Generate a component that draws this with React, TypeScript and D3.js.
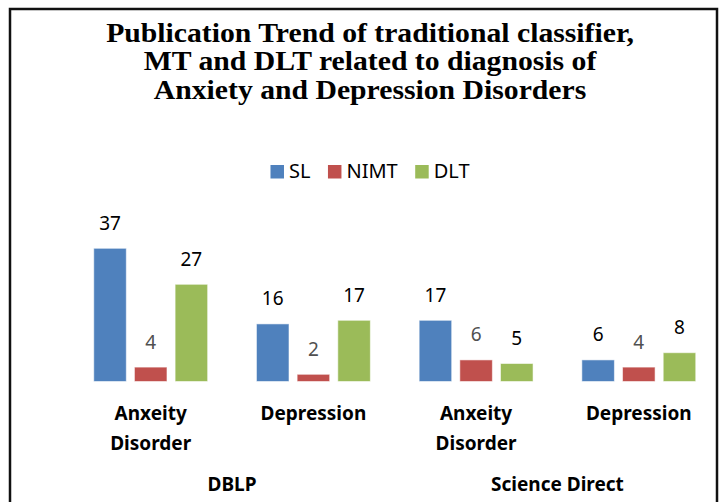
import React, { useEffect, useRef } from 'react';
import * as d3 from 'd3';

const titleLines = [
  'Publication Trend of traditional classifier,',
  'MT and DLT related to diagnosis of',
  'Anxiety and Depression Disorders',
];
const series = ['SL', 'NIMT', 'DLT'];
const seriesColors = ['#4F81BD', '#C0504D', '#9BBB59'];
const groups = ['DBLP-Anxiety', 'DBLP-Depression', 'SD-Anxiety', 'SD-Depression'];
const groupLabels = [['Anxeity', 'Disorder'], ['Depression'], ['Anxeity', 'Disorder'], ['Depression']];
const sources = ['DBLP', 'Science Direct'];
const slValues = [37, 16, 17, 6];
const nimtValues = [4, 2, 6, 4];
const dltValues = [27, 17, 5, 8];

const W = 726;
const H = 502;

export default function App() {
  const ref = useRef<SVGSVGElement>(null);

  useEffect(() => {
    const svg = d3.select(ref.current);
    svg.selectAll('*').remove();

    // outer frame (bottom edge runs off the picture)
    svg.append('rect')
      .attr('x', 10).attr('y', 9)
      .attr('width', 707).attr('height', 520)
      .attr('fill', 'white')
      .attr('stroke', '#111').attr('stroke-width', 2.5);

    // title is a bit wider than plain Times, so stretch it sideways
    const title = svg.append('text')
      .attr('text-anchor', 'middle')
      .attr('transform', 'translate(370,0) scale(1.1,1)')
      .style('font-family', '"Liberation Serif", "Times New Roman", serif')
      .style('font-weight', 'bold')
      .style('font-size', '27px')
      .attr('fill', '#000');
    titleLines.forEach((t, i) => {
      title.append('tspan').attr('x', 0).attr('y', 42 + i * 28.3).text(t);
    });

    // legend
    const legend = svg.append('g');
    let lx = 0;
    series.forEach((s, i) => {
      const item = legend.append('g').attr('transform', `translate(${lx},0)`);
      item.append('rect')
        .attr('x', 0).attr('y', 165)
        .attr('width', 13.5).attr('height', 13.5)
        .attr('fill', seriesColors[i]);
      const txt = item.append('text')
        .attr('x', 18.5).attr('y', 178.3)
        .style('font-family', '"Noto Sans", sans-serif')
        .style('font-size', '20px')
        .attr('fill', '#000')
        .text(s);
      const len = (txt.node() as SVGTextElement).getComputedTextLength();
      lx += 18.5 + len + (i < series.length - 1 ? 17.5 : 0);
    });
    legend.attr('transform', `translate(${370 - lx / 2},0)`);

    const x0 = d3.scaleBand<string>()
      .domain(groups)
      .range([69.35, 720.15])
      .paddingInner(0.3)
      .paddingOuter(0.15);
    const x1 = d3.scaleBand<string>()
      .domain(series)
      .range([0, x0.bandwidth()])
      .paddingInner(0.2);
    const y = d3.scaleLinear().domain([0, 40]).range([381.5, 237.5]);

    const valuesBySeries = [slValues, nimtValues, dltValues];
    const rows = groups.map((g, gi) => ({
      g,
      vals: series.map((s, si) => ({ s, si, v: valuesBySeries[si][gi] })),
    }));

    const gGroups = svg.append('g').selectAll('g')
      .data(rows).join('g')
      .attr('transform', (d) => `translate(${x0(d.g)},0)`);

    gGroups.selectAll('rect')
      .data((d) => d.vals).join('rect')
      .attr('x', (d) => x1(d.s)!)
      .attr('y', (d) => y(d.v))
      .attr('width', x1.bandwidth())
      .attr('height', (d) => y(0) - y(d.v))
      .attr('fill', (d) => seriesColors[d.si])
      .attr('stroke', 'rgba(255,255,255,0.55)')
      .attr('stroke-width', 1);

    gGroups.selectAll('text.val')
      .data((d) => d.vals).join('text')
      .attr('class', 'val')
      .attr('x', (d) => x1(d.s)! + x1.bandwidth() / 2)
      .attr('y', (d) => y(d.v) - 18.5)
      .attr('text-anchor', 'middle')
      .style('font-family', '"Noto Sans", sans-serif')
      .style('font-size', '19px')
      .attr('fill', (d) => (d.s === 'NIMT' ? '#505050' : '#000'))
      .text((d) => d.v);

    // category labels
    groups.forEach((g, gi) => {
      const cx = x0(g)! + x0.bandwidth() / 2;
      const t = svg.append('text')
        .attr('text-anchor', 'middle')
        .style('font-family', '"Noto Sans", sans-serif')
        .style('font-weight', 'bold')
        .style('font-size', '19px')
        .attr('fill', '#000');
      groupLabels[gi].forEach((line, li) => {
        t.append('tspan').attr('x', cx).attr('y', 420 + li * 30).text(line);
      });
    });

    sources.forEach((s, si) => {
      const a = x0(groups[si * 2])! + x0.bandwidth() / 2;
      const b = x0(groups[si * 2 + 1])! + x0.bandwidth() / 2;
      svg.append('text')
        .attr('x', (a + b) / 2)
        .attr('y', 490.5)
        .attr('text-anchor', 'middle')
        .style('font-family', '"Noto Sans", sans-serif')
        .style('font-weight', 'bold')
        .style('font-size', '19px')
        .attr('fill', '#000')
        .text(s);
    });
  }, []);

  return (
    <svg
      ref={ref}
      width={W}
      height={H}
      style={{ position: 'absolute', left: 0, top: 0, background: 'white' }}
    />
  );
}
